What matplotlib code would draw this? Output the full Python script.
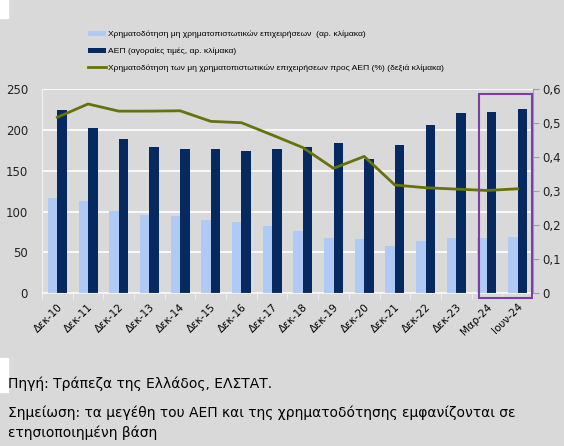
import numpy as np
import matplotlib
matplotlib.use("Agg")
import matplotlib.pyplot as plt
from matplotlib.patches import Rectangle
from matplotlib.ticker import FuncFormatter

# data
labels = ["Δεκ-10", "Δεκ-11", "Δεκ-12", "Δεκ-13", "Δεκ-14", "Δεκ-15", "Δεκ-16", "Δεκ-17",
          "Δεκ-18", "Δεκ-19", "Δεκ-20", "Δεκ-21", "Δεκ-22", "Δεκ-23", "Μαρ-24", "Ιουν-24"]
financing = [116.6, 113, 100.7, 96.2, 95, 89.3, 87.3, 82.4,
             76.3, 67.3, 66.1, 57.9, 64, 67.3, 67.3, 69.3]
gdp = [224, 202.7, 188.4, 179.5, 176.6, 176.2, 174.2, 176.6,
       179.5, 183.6, 164.8, 181.1, 206.4, 220.3, 222.3, 225.6]
ratio = [0.517, 0.556, 0.535, 0.535, 0.536, 0.505, 0.501, 0.465,
         0.428, 0.367, 0.402, 0.318, 0.310, 0.306, 0.302, 0.307]

bg = "#d9d9d9"
light = "#afcbf5"
dark = "#062a5f"
olive = "#66720a"

W, H = 564, 446
fig = plt.figure(figsize=(W / 100, H / 100), dpi=100, facecolor=bg)

ax = fig.add_axes([42 / W, 1 - 293.3 / H, (533 - 42) / W, (293.3 - 89) / H])
ax.set_facecolor(bg)
x = np.arange(len(labels))
bw = 0.31
ax.bar(x - bw / 2, financing, bw, color=light, zorder=2,
       label="Χρηματοδότηση μη χρηματοπιστωτικών επιχειρήσεων  (αρ. κλίμακα)")
ax.bar(x + bw / 2, gdp, bw, color=dark, zorder=2,
       label="ΑΕΠ (αγοραίες τιμές, αρ. κλίμακα)")
ax.set_ylim(0, 250)
ax.set_xlim(-0.5, len(labels) - 0.5)
ax.set_yticks(range(0, 251, 50))
ax.grid(axis="y", color="white", linewidth=1.2, zorder=0)
ax.tick_params(axis="y", length=0, labelsize=8.5, pad=10, colors="#222222")
ax.set_xticks(x)
ax.set_xticklabels(labels, rotation=45, ha="right", rotation_mode="anchor", fontsize=7.5)
ax.set_xticks(np.arange(-0.5, len(labels), 1), minor=True)
ax.tick_params(axis="x", which="major", length=0, pad=6)
ax.tick_params(axis="x", which="minor", length=4, color="#f2f2f2")
for s in ["top", "right"]:
    ax.spines[s].set_visible(False)
ax.spines["left"].set_color("#f2f2f2")
ax.spines["bottom"].set_color("#f2f2f2")

ax2 = ax.twinx()
ax2.plot(x, ratio, color=olive, linewidth=2, zorder=3,
         label="Χρηματοδότηση των μη χρηματοπιστωτικών επιχειρήσεων προς ΑΕΠ (%) (δεξιά κλίμακα)")
ax2.set_ylim(0, 0.6)
ax2.set_yticks(np.arange(0, 0.61, 0.1))
ax2.yaxis.set_major_formatter(FuncFormatter(lambda v, p: "0" if v == 0 else f"{v:.1f}".replace(".", ",")))
ax2.tick_params(axis="y", length=4, colors="#a0a0a0", labelcolor="#222222", labelsize=8.5, pad=3)
for s in ["top", "left", "bottom"]:
    ax2.spines[s].set_visible(False)
ax2.spines["right"].set_color("#a0a0a0")

# purple frame around the 2024 quarters
ax2.add_patch(Rectangle((13.74, -0.014), 1.73, 0.6, transform=ax2.transData,
                        fill=False, edgecolor="#7a3ea6", linewidth=1.5, clip_on=False, zorder=4))

h1, l1 = ax.get_legend_handles_labels()
h2, l2 = ax2.get_legend_handles_labels()
fig.legend(h1 + h2, l1 + l2, loc="upper left", bbox_to_anchor=(80 / W, 1 - 23 / H),
           frameon=False, prop={"family": "Liberation Sans", "size": 6.1}, handlelength=2.2,
           handleheight=0.6, handletextpad=0.15, labelspacing=1.1)

# white strips at the left edge of the screenshot
fig.patches.append(Rectangle((0, 1 - 18 / H), 8 / W, 18 / H, transform=fig.transFigure,
                             color="white", zorder=-1))
fig.patches.append(Rectangle((0, 1 - 392 / H), 8 / W, 34 / H, transform=fig.transFigure,
                             color="white", zorder=-1))

fig.text(8 / W, 1 - 384 / H, "Πηγή: Τράπεζα της Ελλάδος, ΕΛΣΤΑΤ.", fontsize=10, va="center")
fig.text(8 / W, 1 - 413 / H,
         "Σημείωση: τα μεγέθη του ΑΕΠ και της χρηματοδότησης εμφανίζονται σε",
         fontsize=10, va="center")
fig.text(8 / W, 1 - 433 / H, "ετησιοποιημένη βάση", fontsize=10, va="center")

fig.savefig("out.png", dpi=100, facecolor=bg)
